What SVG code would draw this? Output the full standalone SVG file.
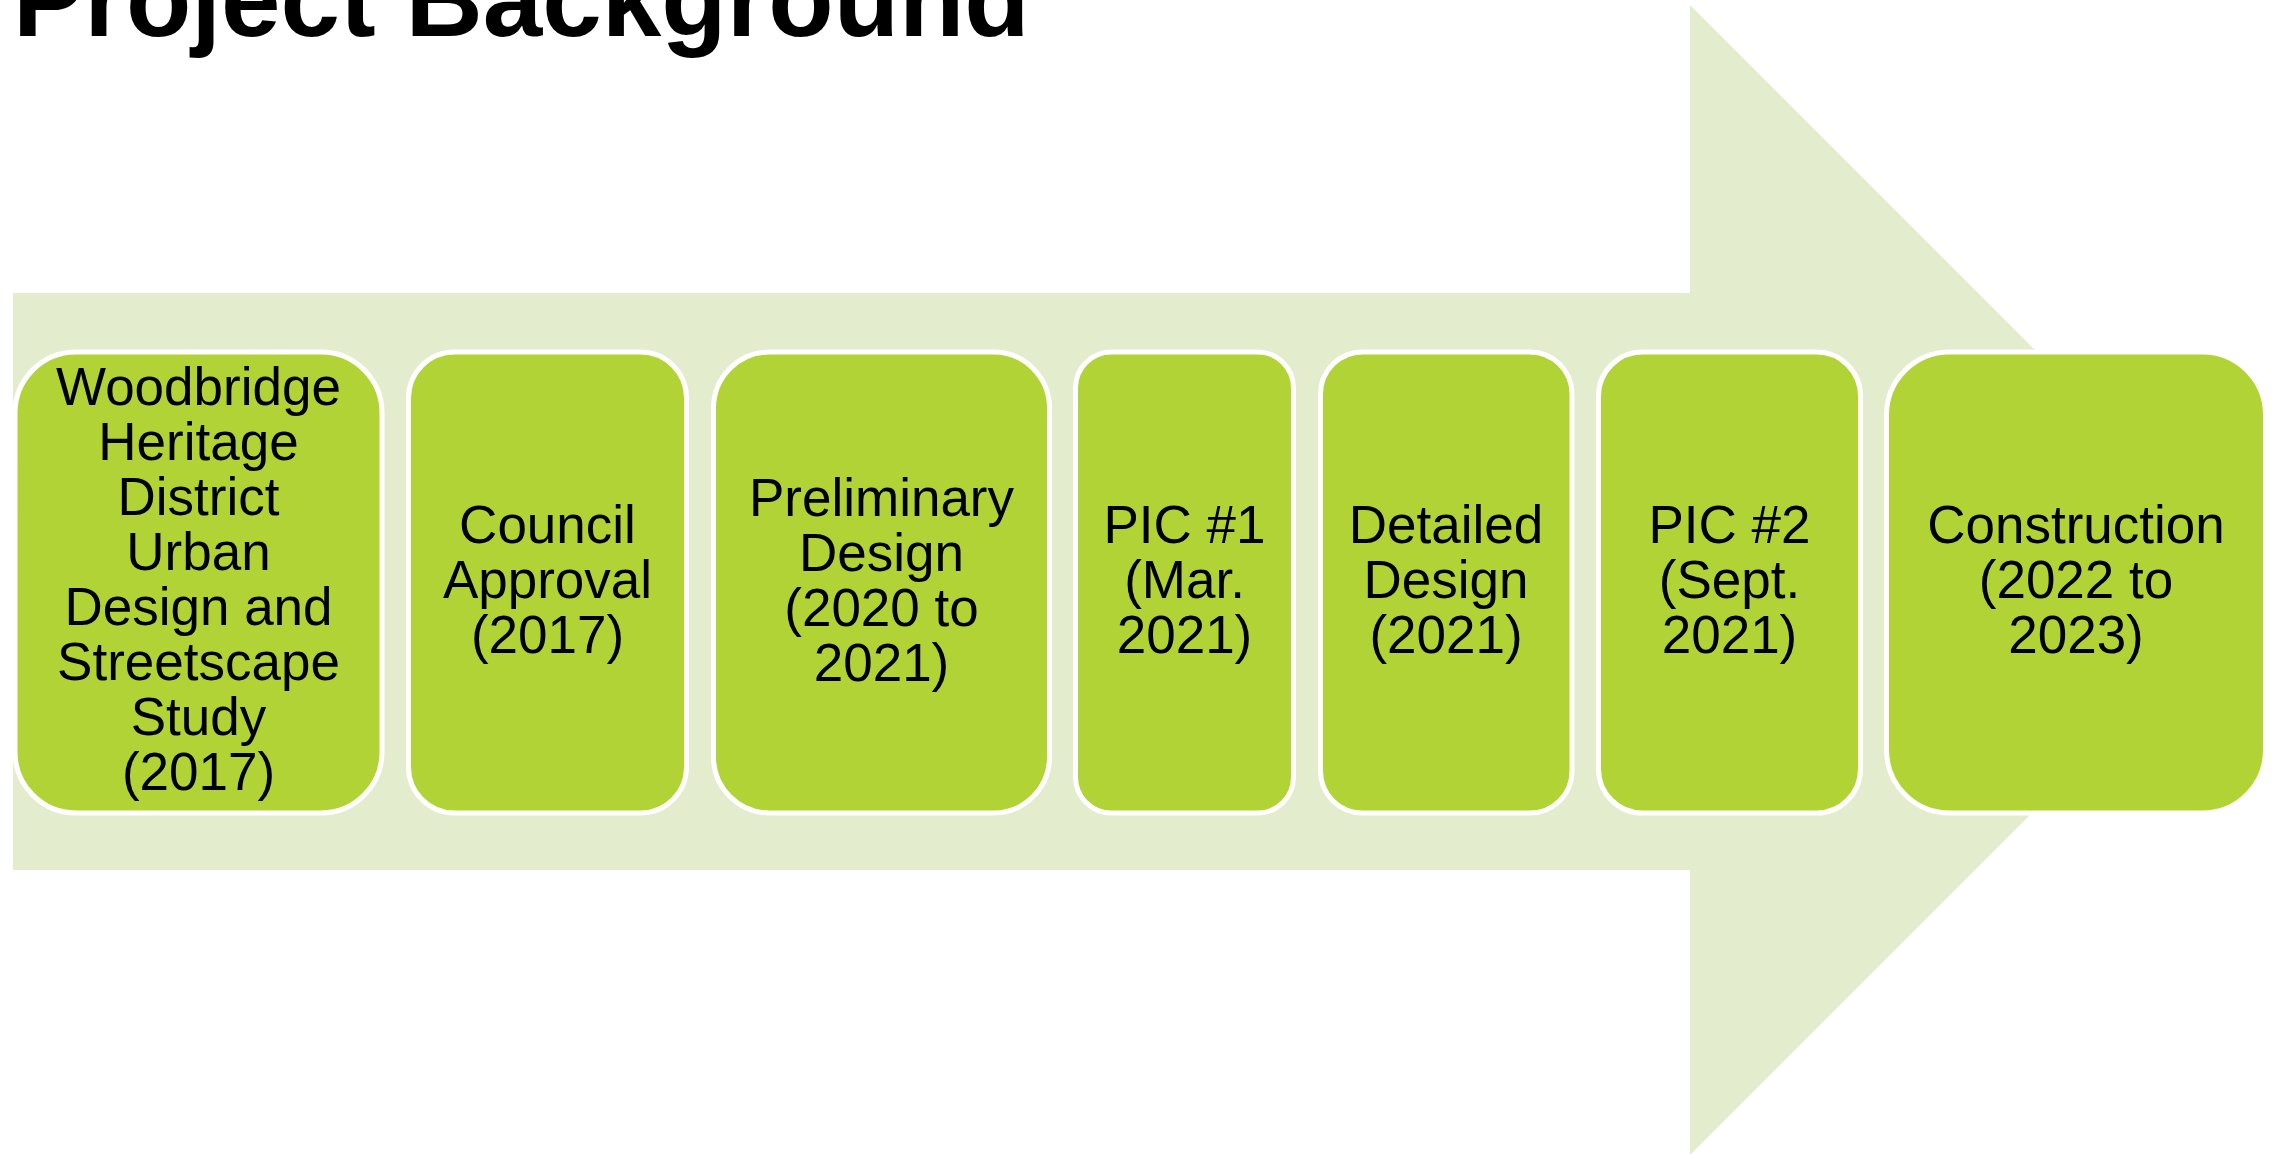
<svg xmlns="http://www.w3.org/2000/svg" width="2274" height="1154" viewBox="0 0 2274 1154">
<style>
.bg{fill:#E3EDCD}
.box{fill:#B2D335;stroke:#FFFFFF;stroke-width:5}
.lbl{font-family:"Liberation Sans",Arial,sans-serif;font-size:53px;fill:#000000;text-anchor:middle}
.title{font-family:"Liberation Sans",Arial,sans-serif;font-size:107px;font-weight:bold;fill:#000000}
</style>
<rect width="2274" height="1154" fill="#FFFFFF"/>
<text class="title" x="13" y="36">Project Background</text>
<g id="arrow">
<polygon class="bg" points="13,293 1690,293 1690,5 2265,580 1690,1155 1690,870 13,870"/>
</g>
<g id="connectors"></g>
<g id="n1">
<rect class="box" x="15" y="352" width="367" height="461" rx="61" ry="61"/>
<text class="lbl" x="198.5" y="405">Woodbridge</text>
<text class="lbl" x="198.5" y="460">Heritage</text>
<text class="lbl" x="198.5" y="515">District</text>
<text class="lbl" x="198.5" y="570">Urban</text>
<text class="lbl" x="198.5" y="625">Design and</text>
<text class="lbl" x="198.5" y="680">Streetscape</text>
<text class="lbl" x="198.5" y="735">Study</text>
<text class="lbl" x="198.5" y="790">(2017)</text>
</g>
<g id="n2">
<rect class="box" x="408.5" y="352" width="278" height="461" rx="46" ry="46"/>
<text class="lbl" x="547.5" y="543">Council</text>
<text class="lbl" x="547.5" y="598">Approval</text>
<text class="lbl" x="547.5" y="653">(2017)</text>
</g>
<g id="n3">
<rect class="box" x="713.5" y="352" width="336" height="461" rx="56" ry="56"/>
<text class="lbl" x="881.5" y="516">Preliminary</text>
<text class="lbl" x="881.5" y="571">Design</text>
<text class="lbl" x="881.5" y="626">(2020 to</text>
<text class="lbl" x="881.5" y="681">2021)</text>
</g>
<g id="n4">
<rect class="box" x="1075.5" y="352" width="218" height="461" rx="36" ry="36"/>
<text class="lbl" x="1184.5" y="543">PIC #1</text>
<text class="lbl" x="1184.5" y="598">(Mar.</text>
<text class="lbl" x="1184.5" y="653">2021)</text>
</g>
<g id="n5">
<rect class="box" x="1320.5" y="352" width="251.5" height="461" rx="42" ry="42"/>
<text class="lbl" x="1446" y="543">Detailed</text>
<text class="lbl" x="1446" y="598">Design</text>
<text class="lbl" x="1446" y="653">(2021)</text>
</g>
<g id="n6">
<rect class="box" x="1598.5" y="352" width="262" height="461" rx="44" ry="44"/>
<text class="lbl" x="1729.5" y="543">PIC #2</text>
<text class="lbl" x="1729.5" y="598">(Sept.</text>
<text class="lbl" x="1729.5" y="653">2021)</text>
</g>
<g id="n7">
<rect class="box" x="1886.5" y="352" width="379" height="461" rx="63" ry="63"/>
<text class="lbl" x="2076" y="543">Construction</text>
<text class="lbl" x="2076" y="598">(2022 to</text>
<text class="lbl" x="2076" y="653">2023)</text>
</g>
</svg>
